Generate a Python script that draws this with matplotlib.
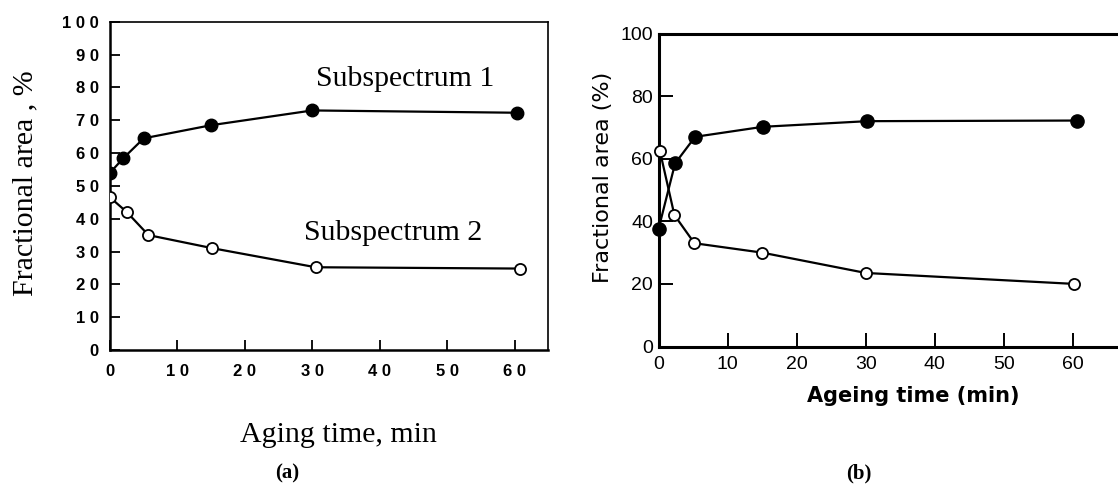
import numpy as np
import matplotlib
matplotlib.use("Agg")
import matplotlib.pyplot as plt

# panel (a): aging time (min) vs fractional area (%)
time_a = [0, 2, 5, 15, 30, 60.3]
sub1_a = [54, 58.5, 64.5, 68.5, 73, 72.3]
time_a2 = [0, 2.5, 5.7, 15.2, 30.5, 60.8]
sub2_a = [46.5, 42, 35, 31, 25.2, 24.8]

# panel (b): ageing time (min) vs fractional area (%)
time_b = [0, 2.4, 5.3, 15.1, 30.2, 60.6]
sub1_b = [37.5, 58.5, 67, 70.2, 72, 72.2]
time_b2 = [0.2, 2.3, 5.2, 15, 30, 60.2]
sub2_b = [62.5, 42, 33, 30, 23.5, 20]

ticks_a = list(range(0, 101, 10))
xticks = list(range(0, 61, 10))
ticks_b = [0, 20, 40, 60, 80, 100]

fig = plt.figure(figsize=(11.18, 4.86), dpi=100)

serif = "Liberation Serif"
sans = "DejaVu Sans"

# ---------- (a) ----------
ax1 = fig.add_axes([0.0984, 0.280, 0.392, 0.675])
ax1.plot(time_a, sub1_a, "-o", color="black", lw=1.6, ms=9,
         mfc="black", mec="black", zorder=3)
ax1.plot(time_a2, sub2_a, "-o", color="black", lw=1.6, ms=8,
         mfc="white", mec="black", mew=1.3, zorder=3)
ax1.set_xlim(0, 65)
ax1.set_ylim(0, 100)
ax1.set_yticks(ticks_a)
ax1.set_yticklabels([" ".join(str(t)) for t in ticks_a],
                    fontfamily="Liberation Sans", fontweight="bold", fontsize=12)
ax1.set_xticks(xticks)
ax1.set_xticklabels([" ".join(str(t)) for t in xticks],
                    fontfamily="Liberation Sans", fontweight="bold", fontsize=12)
ax1.tick_params(direction="in", length=7, width=1.3, pad=8)
ax1.tick_params(axis="x", pad=10)
for side in ["left", "bottom"]:
    ax1.spines[side].set_linewidth(1.8)
for side in ["top", "right"]:
    ax1.spines[side].set_linewidth(1.2)
ax1.text(43.8, 82.5, "Subspectrum 1", family=serif, fontsize=21.5,
         ha="center", va="center")
ax1.text(42, 35.5, "Subspectrum 2", family=serif, fontsize=21.5,
         ha="center", va="center")
fig.text(0.023, 0.623, "Fractional area , %", family=serif, fontsize=21.5,
         rotation=90, ha="center", va="center")
fig.text(0.303, 0.105, "Aging time, min", family=serif, fontsize=21.5,
         ha="center", va="center")
fig.text(0.257, 0.025, "(a)", family=serif, fontweight="bold", fontsize=15,
         ha="center", va="center")

# ---------- (b) ----------
ax2 = fig.add_axes([0.589, 0.287, 0.411, 0.644])
ax2.plot(time_b, sub1_b, "-o", color="black", lw=1.6, ms=9.5,
         mfc="black", mec="black", zorder=3, clip_on=False)
ax2.plot(time_b2, sub2_b, "-o", color="black", lw=1.6, ms=8,
         mfc="white", mec="black", mew=1.3, zorder=3, clip_on=False)
ax2.set_xlim(0, 66.5)
ax2.set_ylim(0, 100)
ax2.set_yticks(ticks_b)
ax2.set_xticks(xticks)
ax2.tick_params(direction="in", length=10, width=1.4, pad=4,
                labelsize=14)
ax2.tick_params(axis="x", pad=7)
for lab in ax2.get_xticklabels() + ax2.get_yticklabels():
    lab.set_fontfamily("Liberation Sans")
ax2.spines["right"].set_visible(False)
for side in ["left", "bottom", "top"]:
    ax2.spines[side].set_linewidth(2.2)
fig.text(0.539, 0.636, "Fractional area (%)", family=sans, fontsize=16,
         rotation=90, ha="center", va="center")
fig.text(0.817, 0.185, "Ageing time (min)", family=sans, fontsize=15,
         fontweight="bold", ha="center", va="center")
fig.text(0.768, 0.025, "(b)", family=serif, fontweight="bold", fontsize=15,
         ha="center", va="center")

fig.savefig("out.png", dpi=100)
